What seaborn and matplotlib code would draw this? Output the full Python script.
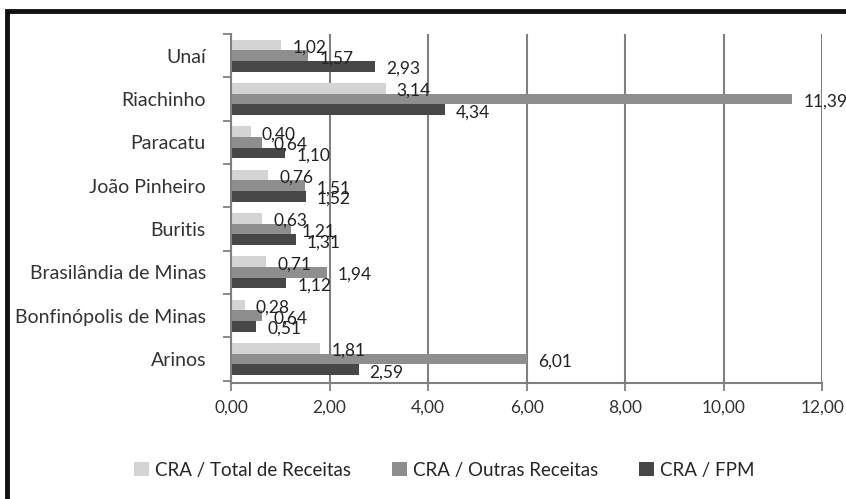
import pandas as pd
import matplotlib.pyplot as plt
import seaborn as sns
from matplotlib.patches import Rectangle
from matplotlib.ticker import FixedLocator

municipios = ["Unaí", "Riachinho", "Paracatu", "João Pinheiro", "Buritis",
              "Brasilândia de Minas", "Bonfinópolis de Minas", "Arinos"]
series = ["CRA / Total de Receitas", "CRA / Outras Receitas", "CRA / FPM"]
total_receitas = [1.02, 3.14, 0.40, 0.76, 0.63, 0.71, 0.28, 1.81]
outras_receitas = [1.57, 11.39, 0.64, 1.51, 1.21, 1.94, 0.64, 6.01]
fpm = [2.93, 4.34, 1.10, 1.52, 1.31, 1.12, 0.51, 2.59]
xticks = [0, 2, 4, 6, 8, 10, 12]

df = pd.DataFrame({
    "municipio": municipios * 3,
    "serie": [series[0]] * 8 + [series[1]] * 8 + [series[2]] * 8,
    "valor": total_receitas + outras_receitas + fpm,
})

sns.set_style("white")
plt.rcParams["font.family"] = ["Lato", "DejaVu Sans"]

fig = plt.figure(figsize=(8.46, 4.99), dpi=100)
ax = fig.add_axes([0.273, 0.233, 0.699, 0.699])

cores = ["#d4d4d4", "#8e8e8e", "#474747"]
sns.barplot(
    data=df, x="valor", y="municipio", hue="serie",
    order=municipios, hue_order=series, palette=cores,
    orient="h", width=0.74, gap=0, edgecolor="none",
    ax=ax, legend=True
)

# rótulos de valor com vírgula decimal, um pouco abaixo do centro da barra
for cont in ax.containers:
    vals = [b.get_width() for b in cont]
    txts = ax.bar_label(cont, labels=[f"{v:.2f}".replace(".", ",") for v in vals],
                        padding=8, fontsize=12.5, color="#222222")
    for t in txts:
        x, y = t.xyann
        t.xyann = (x, y - 2)

ax.set_xlim(0, 12)
ax.set_ylim(7.55, -0.5)
ax.set_xticks(xticks)
ax.set_xticklabels([f"{v:.2f}".replace(".", ",") for v in xticks],
                   fontsize=12.5, color="#333333")
ax.xaxis.grid(True, color="#808080", linewidth=1.5)
ax.set_axisbelow(True)
ax.set_xlabel("")
ax.set_ylabel("")
ax.tick_params(axis="y", length=0, pad=18, labelsize=14, labelcolor="#333333")
ax.yaxis.set_minor_locator(FixedLocator([i - 0.5 for i in range(9)]))
ax.tick_params(axis="y", which="minor", length=6, width=1.3, color="#808080", left=True)
ax.tick_params(axis="x", length=6, width=1.3, color="#808080", bottom=True, pad=6)

for s in ["top", "right"]:
    ax.spines[s].set_visible(False)
for s in ["left", "bottom"]:
    ax.spines[s].set_color("#808080")
    ax.spines[s].set_linewidth(1.5)

ax.legend(loc="center", bbox_to_anchor=(0.525, 0.058), bbox_transform=fig.transFigure,
          ncol=3, frameon=False, fontsize=13.5, handlelength=0.8, handleheight=0.8,
          handletextpad=0.3, columnspacing=2.2)

fig.patches.append(Rectangle((0.0083, -0.05), 1.2, 1.028, transform=fig.transFigure,
                             fill=False, edgecolor="#111111", linewidth=3.5))

plt.savefig("out.png", dpi=100)
